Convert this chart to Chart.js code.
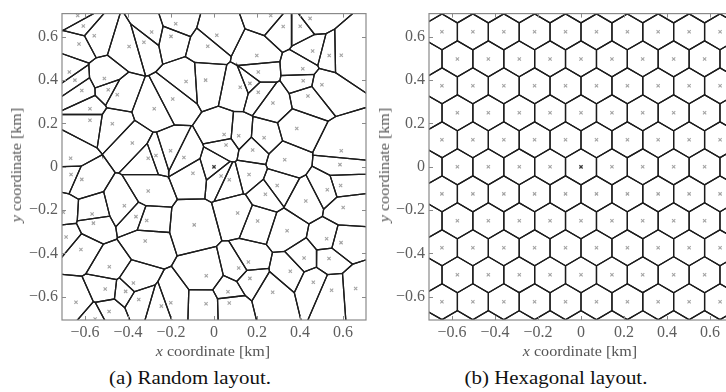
<!DOCTYPE html>
<html>
<head>
<meta charset="utf-8">
<script src="https://cdn.jsdelivr.net/npm/chart.js@4.4.1/dist/chart.umd.min.js"></script>
<style>
  html, body { margin: 0; padding: 0; background: #fff; overflow: hidden; width: 726px; height: 392px; }
  .wrap { position: absolute; top: 0; width: 390px; height: 345px; }
  .lbl { position: absolute; font-family: "Liberation Serif", "Times New Roman", serif; white-space: nowrap; }
  .ytitle { font-size: 14px; color: #555; transform: translate(-50%, -50%) rotate(-90deg) scaleX(1.15); }
  .xtitle { font-size: 14px; color: #555; transform: translate(-50%, -50%) scaleX(1.15); }
  .cap { font-size: 19px; color: #111; transform: translate(-50%, -50%) scaleX(1.1); }
</style>
</head>
<body>
<div class="wrap" style="left:0"><canvas id="cRandom" width="390" height="345"></canvas></div>
<div class="wrap" style="left:367px"><canvas id="cHex" width="390" height="345"></canvas></div>

<div class="lbl ytitle" style="left:17px; top:165px"><i>y</i> coordinate [km]</div>
<div class="lbl ytitle" style="left:385px; top:165px"><i>y</i> coordinate [km]</div>
<div class="lbl xtitle" style="left:213px; top:352px"><i>x</i> coordinate [km]</div>
<div class="lbl xtitle" style="left:580px; top:352px"><i>x</i> coordinate [km]</div>
<div class="lbl cap" style="left:190px; top:378px">(a) Random layout.</div>
<div class="lbl cap" style="left:556px; top:378px">(b) Hexagonal layout.</div>

<script>
// Axis ticks (km)
const tickValues = [-0.6, -0.4, -0.2, 0, 0.2, 0.4, 0.6];
const axisLimit = 0.7071;

// Random layout: base station positions (km)
const seedX = [
  -0.634, -0.608, -0.557, -0.628, -0.395, -0.326, -0.290, -0.200, -0.178, -0.673,
  -0.647, -0.510, -0.615, -0.492, -0.450, -0.192, -0.577, -0.278, -0.577, -0.473,
  -0.380, -0.667, -0.306, -0.270, -0.202, 0.013, -0.029, 0.264, 0.447, 0.322,
  0.401, 0.199, 0.459, 0.536, 0.592, 0.206, 0.413, -0.130, -0.039, 0.167,
  0.122, 0.206, 0.415, 0.502, 0.437, 0.274, 0.385, 0.047, 0.115, 0.056,
  0.233, 0.180, 0.592, -0.140, 0.329, -0.665, -0.615, -0.306, -0.417, -0.701,
  -0.567, -0.561, -0.363, -0.313, -0.688, -0.320, -0.619, -0.487, -0.375, -0.506,
  -0.411, -0.350, -0.642, -0.245, -0.201, 0.000, -0.098, 0.033, 0.071, 0.163,
  0.586, 0.294, 0.239, 0.527, 0.589, 0.427, 0.601, 0.110, -0.092, 0.203,
  0.340, 0.524, 0.591, 0.419, 0.535, 0.160, 0.115, 0.355, -0.036, 0.167,
  0.462, 0.273, 0.547, 0.065, -0.037, 0.071, 0.659, -0.488, -0.553
];
const seedY = [
  0.698, 0.650, 0.605, 0.567, 0.555, 0.575, 0.622, 0.602, 0.660, 0.438,
  0.400, 0.408, 0.352, 0.356, 0.333, 0.313, 0.268, 0.268, 0.215, 0.199,
  0.110, 0.039, 0.039, 0.052, 0.074, 0.607, 0.556, 0.698, 0.685, 0.648,
  0.649, 0.514, 0.534, 0.514, 0.515, 0.438, 0.453, 0.394, 0.400, 0.385,
  0.367, 0.344, 0.397, 0.379, 0.327, 0.294, 0.177, 0.149, 0.143, 0.101,
  0.134, 0.078, 0.074, 0.043, 0.033, -0.036, -0.058, -0.112, -0.180, -0.210,
  -0.218, -0.260, -0.230, -0.248, -0.324, -0.342, -0.382, -0.461, -0.536, -0.564,
  -0.575, -0.612, -0.625, -0.643, -0.627, 0.000, -0.030, -0.042, -0.060, -0.036,
  0.010, -0.086, -0.127, -0.106, -0.086, -0.158, -0.188, -0.213, -0.268, -0.250,
  -0.295, -0.332, -0.350, -0.421, -0.423, -0.439, -0.467, -0.482, -0.503, -0.515,
  -0.533, -0.579, -0.570, -0.577, -0.632, -0.629, -0.562, -0.668, -0.703
];

// Hexagonal layout: row heights and column positions (km)
const hexRowY = [-0.747, -0.623, -0.498, -0.374, -0.249, -0.125, 0, 0.125, 0.249, 0.374, 0.498, 0.623, 0.747];
const hexEvenX = [-0.862, -0.718, -0.575, -0.431, -0.287, -0.144, 0, 0.144, 0.287, 0.431, 0.575, 0.718, 0.862];
const hexOddX = [-0.790, -0.647, -0.503, -0.359, -0.216, -0.072, 0.072, 0.216, 0.359, 0.503, 0.647, 0.790];

// ---- Voronoi cells by half-plane clipping ----
function clipPoly(poly, nx, ny, c) {
  const out = [];
  for (let k = 0; k < poly.length; k++) {
    const a = poly[k], b = poly[(k + 1) % poly.length];
    const da = a[0] * nx + a[1] * ny - c;
    const db = b[0] * nx + b[1] * ny - c;
    if (da <= 0) out.push(a);
    if ((da < 0 && db > 0) || (da > 0 && db < 0)) {
      const t = da / (da - db);
      out.push([a[0] + t * (b[0] - a[0]), a[1] + t * (b[1] - a[1])]);
    }
  }
  return out;
}
function voronoiCells(xs, ys) {
  const cells = [];
  for (let i = 0; i < xs.length; i++) {
    let poly = [[-3, -3], [3, -3], [3, 3], [-3, 3]];
    for (let j = 0; j < xs.length && poly.length; j++) {
      if (j === i) continue;
      const nx = xs[j] - xs[i], ny = ys[j] - ys[i];
      const c = (xs[j] * xs[j] + ys[j] * ys[j] - xs[i] * xs[i] - ys[i] * ys[i]) / 2;
      poly = clipPoly(poly, nx, ny, c);
    }
    if (poly.length) cells.push(poly);
  }
  return cells;
}

function cellDatasets(xs, ys) {
  return voronoiCells(xs, ys).map(poly => ({
    type: 'scatter',
    showLine: true,
    data: poly.concat([poly[0]]).map(p => ({ x: p[0], y: p[1] })),
    borderColor: '#1c1c1c',
    borderWidth: 1.3,
    pointRadius: 0,
    fill: false,
    clip: 0,
    order: 2
  }));
}
function seedDatasets(xs, ys) {
  const pts = xs.map((x, i) => ({ x, y: ys[i] }));
  const others = pts.filter(p => !(p.x === 0 && p.y === 0));
  return [
    { type: 'scatter', data: others, pointStyle: 'crossRot', pointRadius: 2.3,
      borderColor: '#a4a4a4', backgroundColor: '#a4a4a4', borderWidth: 1.1, clip: 0, order: 1 },
    { type: 'scatter', data: [{ x: 0, y: 0 }], pointStyle: 'crossRot', pointRadius: 2.3,
      borderColor: '#3a3a3a', backgroundColor: '#3a3a3a', borderWidth: 1.3, clip: 0, order: 0 }
  ];
}

const fmt = v => (Math.abs(v) < 1e-9 ? '0' : v.toFixed(1).replace('-', '\u2212'));

// Frame with inward ticks on all four sides
const framePlugin = {
  id: 'frame',
  afterDatasetsDraw(chart) {
    const { ctx, chartArea: a, scales } = chart;
    ctx.save();
    ctx.strokeStyle = '#8a8a8a';
    ctx.lineWidth = 1.2;
    ctx.strokeRect(a.left, a.top, a.right - a.left, a.bottom - a.top);
    ctx.lineWidth = 1;
    const L = 4;
    ctx.beginPath();
    tickValues.forEach(v => {
      const px = Math.round(scales.x.getPixelForValue(v)) + 0.5;
      ctx.moveTo(px, a.bottom); ctx.lineTo(px, a.bottom - L);
      ctx.moveTo(px, a.top); ctx.lineTo(px, a.top + L);
      const py = Math.round(scales.y.getPixelForValue(v)) + 0.5;
      ctx.moveTo(a.left, py); ctx.lineTo(a.left + L, py);
      ctx.moveTo(a.right, py); ctx.lineTo(a.right - L, py);
    });
    ctx.stroke();
    ctx.restore();
  }
};

const tickFont = { family: '"Liberation Serif", "Times New Roman", serif', size: 16 };

function axis(extra) {
  return Object.assign({
    type: 'linear',
    min: -axisLimit,
    max: axisLimit,
    grid: { display: false, drawTicks: false },
    border: { display: false },
    afterBuildTicks: s => { s.ticks = tickValues.map(v => ({ value: v })); }
  }, extra);
}
function tickOpts(pad) {
  return { callback: v => fmt(v), color: '#5e5e5e', font: tickFont,
           autoSkip: false, maxRotation: 0, padding: pad };
}

function makeChart(id, datasets) {
  return new Chart(document.getElementById(id), {
    type: 'scatter',
    data: { datasets },
    options: {
      responsive: false,
      animation: false,
      events: [],
      layout: { padding: { left: 0, top: 11, right: 24, bottom: 0 } },
      plugins: { legend: { display: false }, tooltip: { enabled: false } },
      scales: {
        x: axis({ position: 'bottom', afterFit: s => { s.height = 25; }, ticks: tickOpts(3) }),
        y: axis({ position: 'left', afterFit: s => { s.width = 62; }, ticks: tickOpts(4) })
      }
    },
    plugins: [framePlugin]
  });
}

// Random layout
makeChart('cRandom', cellDatasets(seedX, seedY).concat(seedDatasets(seedX, seedY)));

// Hexagonal layout
const hexX = [], hexY = [];
hexRowY.forEach((y, r) => {
  const cols = (r % 2 === 0) ? hexEvenX : hexOddX;
  cols.forEach(x => { hexX.push(x); hexY.push(y); });
});
makeChart('cHex', cellDatasets(hexX, hexY).concat(seedDatasets(hexX, hexY)));
</script>
</body>
</html>
